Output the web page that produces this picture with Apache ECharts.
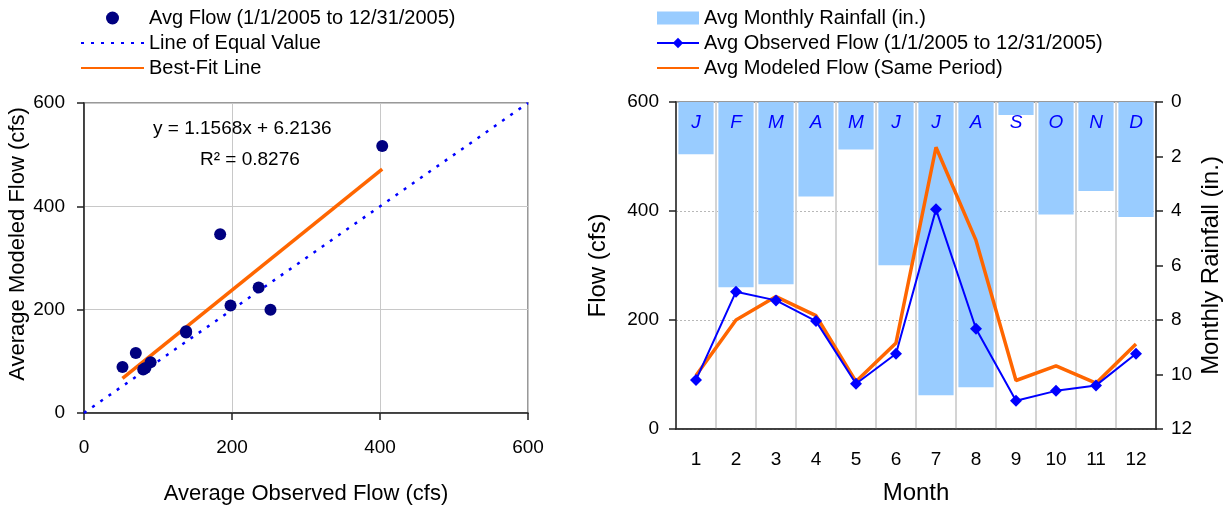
<!DOCTYPE html>
<html>
<head>
<meta charset="utf-8">
<script src="https://cdn.jsdelivr.net/npm/echarts@6/dist/echarts.min.js"></script>
<style>
  html, body { margin: 0; padding: 0; background: #fff; }
  #chart { width: 1227px; height: 510px; }
</style>
</head>
<body>
<div id="chart"></div>
<script>
// data
const months = ['1', '2', '3', '4', '5', '6', '7', '8', '9', '10', '11', '12'];
const monthLetters = ['J', 'F', 'M', 'A', 'M', 'J', 'J', 'A', 'S', 'O', 'N', 'D'];
const rainfall = [1.92, 6.8, 6.69, 3.47, 1.74, 5.99, 10.76, 10.47, 0.48, 4.13, 3.27, 4.22];
const observedFlow = [90, 252, 236, 198, 83, 138, 403, 184, 52, 70, 80, 138];
const modeledFlow = [98, 200, 243, 208, 87, 158, 517, 346, 89, 116, 84, 156];
const equalLine = [[0, 0], [600, 600]];
const fitLine = [[52, 67], [403, 472]];
const flowTicks = [0, 600, 200];
const rainTicks = [0, 12, 2];

const FONT = "'Liberation Sans', Arial, sans-serif";
const scatterPts = observedFlow.map((v, i) => [v, modeledFlow[i]]);

const myChart = echarts.init(document.getElementById('chart'));

const axisLine = { lineStyle: { color: '#222', width: 1.5 } };
const axisTick = { length: 7, lineStyle: { color: '#222', width: 1.5 } };
const labelStyle = { color: '#000', fontSize: 19, fontFamily: FONT };
const legendText = { fontSize: 20, color: '#000', fontFamily: FONT, lineHeight: 20 };
const noSymbol = { opacity: 0 };

const option = {
    animation: false,
    backgroundColor: '#fff',
    textStyle: { fontFamily: FONT },
    legend: [
        {
            orient: 'vertical',
            left: 75,
            top: 3,
            itemWidth: 63,
            itemHeight: 13,
            itemGap: 5,
            textStyle: legendText,
            data: [
                { name: 'Avg Flow (1/1/2005 to 12/31/2005)', icon: 'circle' },
                { name: 'Line of Equal Value', itemStyle: noSymbol },
                { name: 'Best-Fit Line', itemStyle: noSymbol }
            ]
        },
        {
            orient: 'vertical',
            left: 651,
            top: 3,
            itemWidth: 42,
            itemHeight: 13,
            itemGap: 5,
            textStyle: legendText,
            data: [
                { name: 'Avg Monthly Rainfall (in.)', icon: 'rect' },
                { name: 'Avg Observed Flow (1/1/2005 to 12/31/2005)' },
                { name: 'Avg Modeled Flow (Same Period)', itemStyle: noSymbol }
            ]
        }
    ],
    grid: [
        { left: 84, top: 103, width: 444, height: 314, show: true, borderColor: '#999', borderWidth: 2 },
        { left: 676, top: 102, width: 480, height: 327, show: true, borderColor: '#999', borderWidth: 2 }
    ],
    xAxis: [
        {
            type: 'value', gridIndex: 0,
            min: flowTicks[0], max: flowTicks[1], interval: flowTicks[2],
            axisLine, axisTick,
            axisLabel: Object.assign({ margin: 25 }, labelStyle),
            splitLine: { lineStyle: { color: '#c8c8c8', width: 1 } },
            name: 'Average Observed Flow (cfs)',
            nameLocation: 'middle', nameGap: 70,
            nameTextStyle: { fontSize: 22, color: '#000', fontFamily: FONT }
        },
        {
            type: 'category', gridIndex: 1, data: months,
            axisLine, axisTick: { length: 6, lineStyle: { color: '#222', width: 1.5 } },
            axisLabel: Object.assign({ margin: 21 }, labelStyle),
            splitLine: { show: true, lineStyle: { color: '#d4d4d4', width: 2 } },
            name: 'Month',
            nameLocation: 'middle', nameGap: 52,
            nameTextStyle: { fontSize: 24, color: '#000', fontFamily: FONT }
        }
    ],
    yAxis: [
        {
            type: 'value', gridIndex: 0,
            min: flowTicks[0], max: flowTicks[1], interval: flowTicks[2],
            axisLine: Object.assign({ show: true }, axisLine), axisTick: Object.assign({ show: true }, axisTick),
            axisLabel: Object.assign({ margin: 19 }, labelStyle),
            splitLine: { lineStyle: { color: '#c8c8c8', width: 1 } }
        },
        {
            type: 'value', gridIndex: 1,
            min: flowTicks[0], max: flowTicks[1], interval: flowTicks[2],
            axisLine: Object.assign({ show: true }, axisLine), axisTick: Object.assign({ show: true }, axisTick),
            axisLabel: Object.assign({ margin: 17 }, labelStyle),
            splitLine: { lineStyle: { color: '#b8b8b8', width: 1, type: [2, 2] } },
            name: 'Flow (cfs)',
            nameLocation: 'middle', nameGap: 66,
            nameTextStyle: { fontSize: 24, color: '#000', fontFamily: FONT }
        },
        {
            type: 'value', gridIndex: 1, position: 'right', inverse: true,
            min: rainTicks[0], max: rainTicks[1], interval: rainTicks[2],
            axisLine: Object.assign({ show: true }, axisLine), axisTick: Object.assign({ show: true }, axisTick),
            axisLabel: Object.assign({ margin: 15 }, labelStyle),
            splitLine: { show: false },
            name: 'Monthly Rainfall (in.)',
            nameLocation: 'middle', nameGap: 43,
            nameTextStyle: { fontSize: 24, color: '#000', fontFamily: FONT }
        }
    ],
    graphic: [
        {
            type: 'text', x: 18, y: 244, rotation: Math.PI / 2, z: 100,
            style: {
                text: 'Average Modeled Flow (cfs)', font: '22px ' + FONT, fill: '#000',
                align: 'center', verticalAlign: 'middle'
            }
        },
        {
            type: 'text', left: 153, top: 119, z: 100,
            style: { text: 'y = 1.1568x + 6.2136', font: '19px ' + FONT, fill: '#000' }
        },
        {
            type: 'text', left: 200, top: 150, z: 100,
            style: { text: 'R² = 0.8276', font: '19px ' + FONT, fill: '#000' }
        }
    ],
    series: [
        {
            name: 'Avg Flow (1/1/2005 to 12/31/2005)',
            type: 'scatter', xAxisIndex: 0, yAxisIndex: 0,
            symbol: 'circle', symbolSize: 12,
            itemStyle: { color: '#000080', opacity: 1 },
            data: scatterPts, z: 5
        },
        {
            name: 'Line of Equal Value',
            type: 'line', xAxisIndex: 0, yAxisIndex: 0,
            symbol: 'none',
            lineStyle: { color: '#0000ff', width: 2.5, type: [3, 7] },
            itemStyle: { color: '#0000ff' },
            data: equalLine, z: 3
        },
        {
            name: 'Best-Fit Line',
            type: 'line', xAxisIndex: 0, yAxisIndex: 0,
            symbol: 'none',
            lineStyle: { color: '#ff6600', width: 3.5 },
            itemStyle: { color: '#ff6600' },
            data: fitLine, z: 4
        },
        {
            name: 'Avg Monthly Rainfall (in.)',
            type: 'bar', xAxisIndex: 1, yAxisIndex: 2,
            barCategoryGap: '12%',
            itemStyle: { color: '#99ccff' },
            label: {
                show: true, position: 'insideTop', distance: 11,
                formatter: p => monthLetters[p.dataIndex],
                color: '#0000ff', fontStyle: 'italic', fontSize: 19, fontFamily: FONT
            },
            data: rainfall, z: 2
        },
        {
            name: 'Avg Modeled Flow (Same Period)',
            type: 'line', xAxisIndex: 1, yAxisIndex: 1,
            symbol: 'none',
            lineStyle: { color: '#ff6600', width: 3.5 },
            itemStyle: { color: '#ff6600' },
            data: modeledFlow, z: 4
        },
        {
            name: 'Avg Observed Flow (1/1/2005 to 12/31/2005)',
            type: 'line', xAxisIndex: 1, yAxisIndex: 1,
            symbol: 'diamond', symbolSize: 12,
            lineStyle: { color: '#0000ff', width: 2 },
            itemStyle: { color: '#0000ff' },
            data: observedFlow, z: 5
        }
    ]
};

option && myChart.setOption(option);
</script>
</body>
</html>
